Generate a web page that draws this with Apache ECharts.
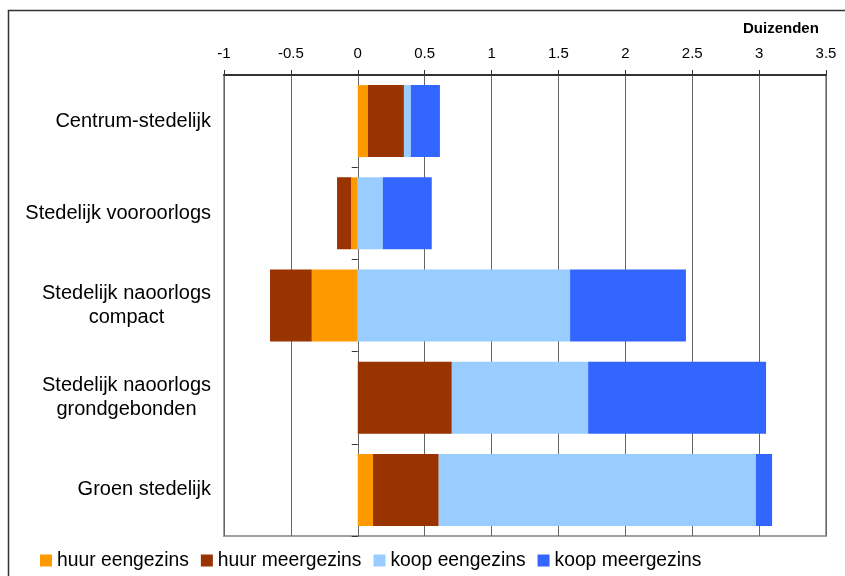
<!DOCTYPE html>
<html><head><meta charset="utf-8">
<script src="https://cdn.jsdelivr.net/npm/echarts@6/dist/echarts.min.js"></script>
<style>html,body{margin:0;padding:0;background:#fff}#c{width:845px;height:576px}</style>
</head><body><div id="c"></div>
<script>
var categories = ['Centrum-stedelijk', 'Stedelijk vooroorlogs', 'Stedelijk naoorlogs\ncompact', 'Stedelijk naoorlogs\ngrondgebonden', 'Groen stedelijk'];
var seriesNames = ['huur eengezins', 'huur meergezins', 'koop eengezins', 'koop meergezins'];
var huurEengezins = [0.075, -0.05, -0.344, 0, 0.114];
var huurMeergezins = [0.27, -0.105, -0.312, 0.703, 0.491];
var koopEengezins = [0.052, 0.187, 1.587, 1.019, 2.371];
var koopMeergezins = [0.217, 0.366, 0.866, 1.33, 0.121];
var colors = ['#FF9900', '#993300', '#99CCFF', '#3366FF'];
var seriesData = [huurEengezins, huurMeergezins, koopEengezins, koopMeergezins];

var chart = echarts.init(document.getElementById('c'));
var font = 'Liberation Sans, Arial, sans-serif';
chart.setOption({
  animation: false,
  textStyle: {fontFamily: font},
  graphic: [
    {type: 'rect', shape: {x: 8.5, y: 10.5, width: 900, height: 700}, style: {fill: 'none', stroke: '#333', lineWidth: 1.5}, silent: true},
    {type: 'text', left: 743, top: 21, style: {text: 'Duizenden', font: 'bold 15px Liberation Sans, Arial, sans-serif', fill: '#000'}}
  ],
  grid: {left: 224, right: 19, top: 75, bottom: 40, show: true, borderColor: '#a0a0a0', borderWidth: 2, containLabel: false},
  legend: {
    left: 35, top: 546, itemWidth: 12, itemHeight: 12, itemGap: 12, icon: 'rect',
    textStyle: {fontSize: 19.3, color: '#000', fontFamily: font},
    data: seriesNames
  },
  xAxis: {
    type: 'value', position: 'top', min: -1, max: 3.5, interval: 0.5,
    axisLine: {show: true, lineStyle: {color: '#333', width: 2}},
    axisTick: {show: true, length: 5, lineStyle: {color: '#333'}},
    axisLabel: {fontSize: 15, color: '#000', margin: 14, fontFamily: font},
    splitLine: {show: true, lineStyle: {color: '#666', width: 1}}
  },
  yAxis: [
    {
      type: 'category', data: categories, inverse: true, position: 'left',
      axisLine: {show: true, onZero: true, lineStyle: {color: '#666', width: 1}},
      axisTick: {show: true, length: 6, lineStyle: {color: '#333'}},
      axisLabel: {show: false}
    },
    {
      type: 'category', data: categories, inverse: true, position: 'left',
      axisLine: {show: false, onZero: false}, axisTick: {show: false},
      axisLabel: {
        fontSize: 20, color: '#000', align: 'right', margin: 13, lineHeight: 24, fontFamily: font,
        formatter: function (v) {
          return v.split('\n').map(function (s) { return '{c|' + s + '}'; }).join('\n');
        },
        rich: {c: {align: 'center', fontSize: 20, lineHeight: 24, color: '#000', fontFamily: font}}
      }
    }
  ],
  series: seriesNames.map(function (n, i) {
    return {
      name: n, type: 'bar', stack: 'total', yAxisIndex: 0,
      barWidth: 72, data: seriesData[i],
      itemStyle: {color: colors[i]}
    };
  })
});
</script></body></html>
